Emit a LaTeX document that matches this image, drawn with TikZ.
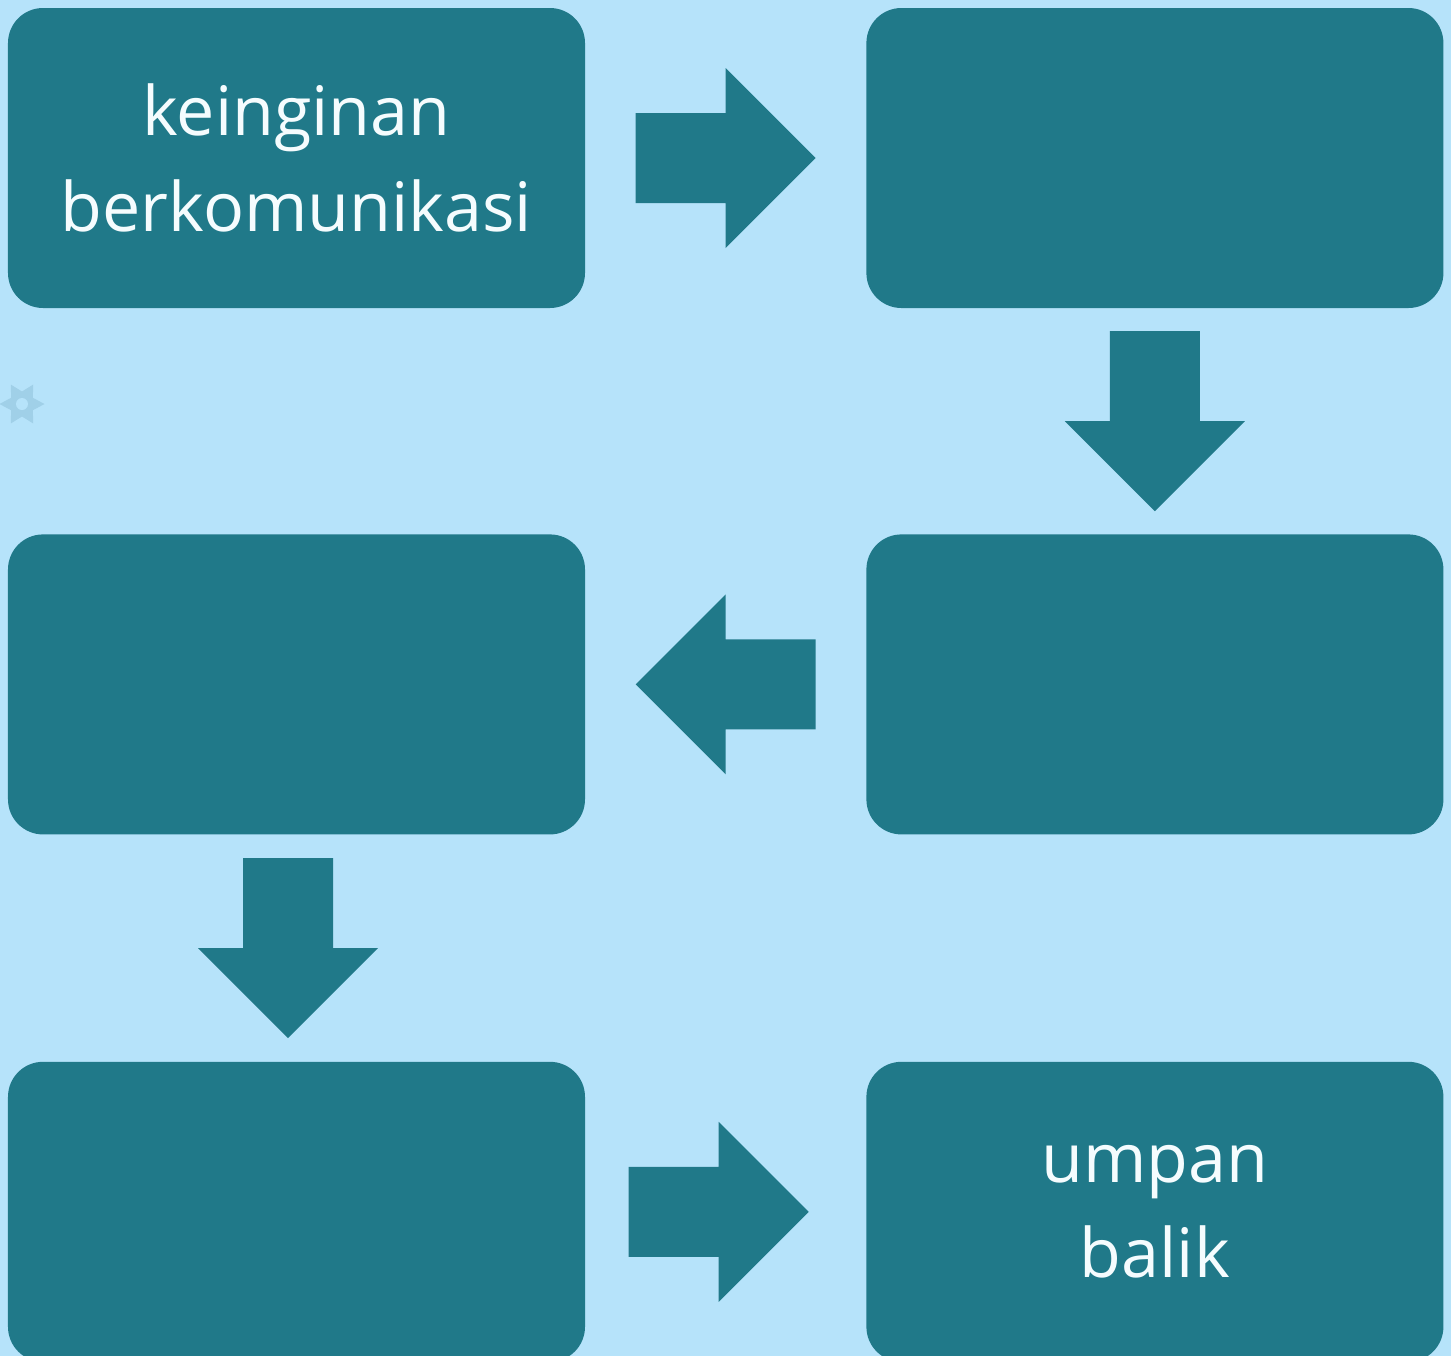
\documentclass[tikz,border=0pt]{standalone}
\usepackage{fontspec}
\setmainfont{Open Sans}
\usetikzlibrary{positioning,calc,shapes.geometric}
\definecolor{latar}{RGB}{182,227,250}
\definecolor{kotak}{RGB}{32,121,137}
\definecolor{bintang}{RGB}{160,208,232}
\tikzset{
  tahap/.style={fill=kotak,rounded corners=0.35cm,minimum width=5.77cm,minimum height=3cm,
    text=white!96!cyan,align=center,font=\fontsize{19.4}{27.2}\selectfont,inner sep=0pt},
  panah/.pic={\fill[kotak] (-0.9,-0.45) -- (0,-0.45) -- (0,-0.9) -- (0.9,0) -- (0,0.9) -- (0,0.45) -- (-0.9,0.45) -- cycle;}
}
\begin{document}
\begin{tikzpicture}
  \useasboundingbox (0,0) rectangle (14.51,-13.56);
  \fill[latar] (0,0) rectangle (14.51,-13.56);
  \node[star,star points=6,star point ratio=1.8,shape border rotate=30,fill=bintang,minimum size=0.45cm,inner sep=0pt] (hiasan) at (0.22,-4.04) {};
  \fill[latar] (hiasan.center) circle (0.06);
  \node[tahap] (keinginan) at (2.965,-1.58) {keinginan\\berkomunikasi};
  \node[tahap,right=2.8cm of keinginan] (tahap2) {};
  \node[tahap,below=2.25cm of tahap2] (tahap3) {};
  \node[tahap,left=2.8cm of tahap3] (tahap4) {};
  \node[tahap,below=2.26cm of tahap4] (tahap5) {};
  \node[tahap,right=2.8cm of tahap5] (umpanbalik) {umpan\\balik};
  \pic at ($(keinginan.east)!0.5!(tahap2.west)$) {panah};
  \pic[rotate=-90] at ($(tahap2.south)!0.5!(tahap3.north)$) {panah};
  \pic[rotate=180] at ($(tahap3.west)!0.5!(tahap4.east)$) {panah};
  \pic[rotate=-90] at ($(tahap4.south)!0.5!(tahap5.north)+(-0.085,0)$) {panah};
  \pic at ($(tahap5.east)!0.5!(umpanbalik.west)+(-0.07,0)$) {panah};
\end{tikzpicture}
\end{document}
